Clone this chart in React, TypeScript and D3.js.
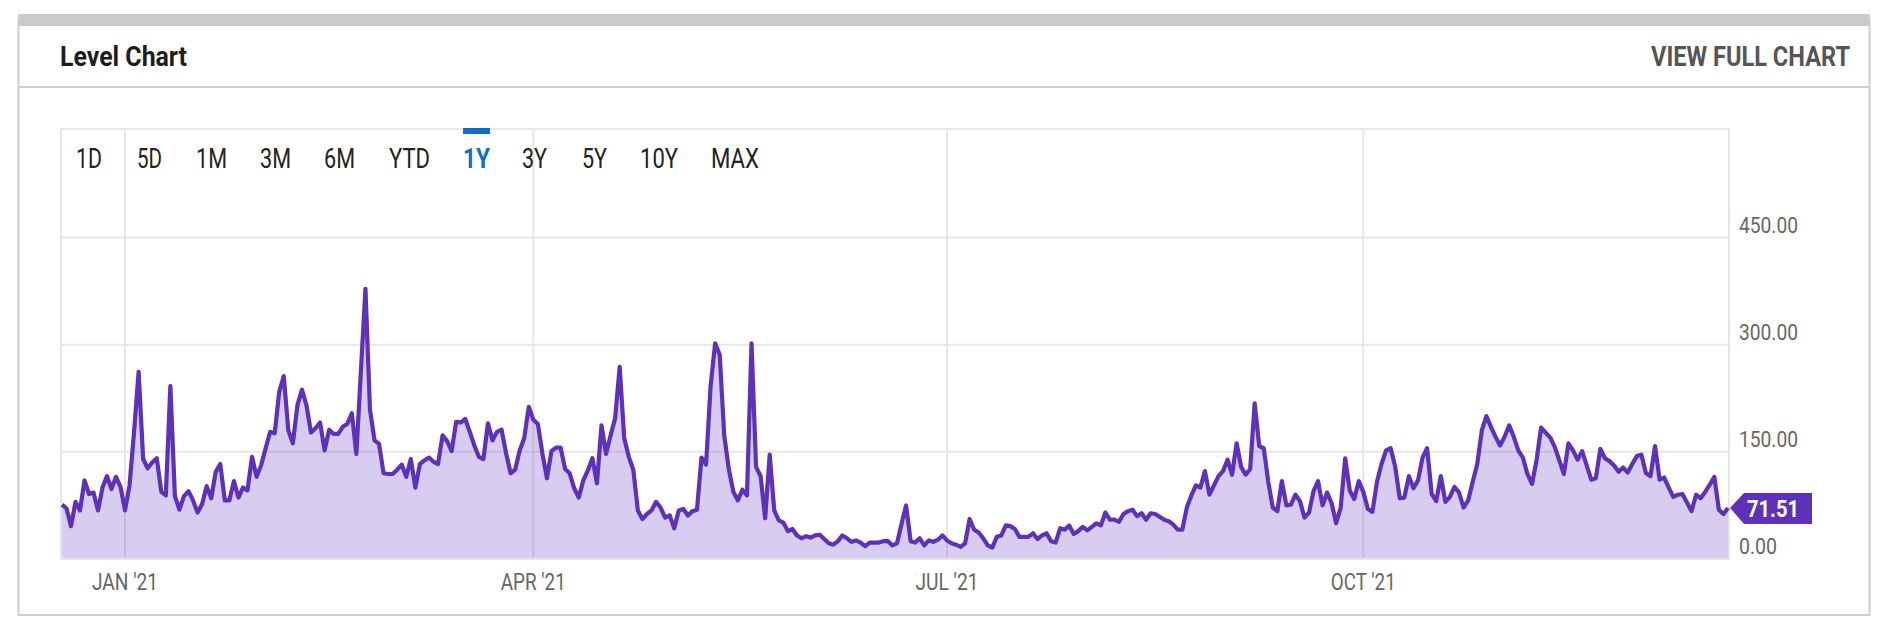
import React from 'react';
import * as d3 from 'd3';

const title = 'Level Chart';
const linkText = 'VIEW FULL CHART';
const rangeTabs = ['1D', '5D', '1M', '3M', '6M', 'YTD', '1Y', '3Y', '5Y', '10Y', 'MAX'];
const activeTab = '1Y';
const yTicks = [0, 150, 300, 450];
const xTicks = [new Date(Date.UTC(2021, 0, 1)), new Date(Date.UTC(2021, 3, 1)), new Date(Date.UTC(2021, 6, 1)), new Date(Date.UTC(2021, 9, 1))];
const firstDay = new Date(Date.UTC(2020, 11, 18));
const lastValue = 71.51;

// one value per day
const levels = [
  76, 71, 46, 80, 68, 110, 91, 93, 68, 100, 116, 98, 115, 101, 68, 103, 178, 262, 140, 127, 135, 141, 94, 89, 242, 88,
  69, 88, 95, 82, 65, 77, 102, 85, 122, 133, 82, 82, 109, 86, 100, 96, 143, 115, 131, 155, 178, 176, 234, 256, 180, 162, 215,
  237, 215, 177, 183, 191, 152, 181, 175, 175, 185, 189, 204, 147, 263, 378, 209, 166, 161, 120, 119, 119, 125, 132, 115, 140, 100,
  133, 138, 142, 136, 133, 173, 165, 151, 192, 191, 196, 178, 159, 143, 140, 190, 166, 178, 181, 148, 120, 125, 152, 169, 213, 195,
  189, 148, 113, 151, 156, 156, 126, 120, 99, 86, 110, 124, 141, 106, 187, 147, 173, 197, 269, 169, 143, 125, 68, 56, 63, 68,
  80, 72, 58, 61, 43, 68, 70, 61, 67, 69, 142, 132, 242, 302, 286, 173, 126, 94, 82, 97, 89, 302, 129, 116, 57, 146,
  68, 54, 51, 39, 42, 33, 29, 32, 30, 33, 34, 28, 22, 20, 25, 33, 29, 24, 26, 23, 18, 23, 23, 23, 25, 25,
  19, 22, 49, 75, 25, 23, 29, 19, 26, 24, 27, 33, 26, 22, 20, 17, 22, 56, 41, 37, 29, 19, 16, 31, 33, 47, 46,
  42, 31, 31, 31, 36, 28, 33, 36, 25, 23, 43, 41, 47, 35, 39, 45, 40, 45, 50, 47, 65, 55, 55, 52, 63, 67, 69,
  60, 64, 55, 64, 63, 59, 55, 53, 48, 41, 41, 72, 89, 103, 100, 123, 90, 103, 116, 123, 139, 118, 162, 129, 118,
  126, 218, 158, 155, 108, 72, 67, 109, 75, 76, 90, 81, 58, 65, 95, 109, 75, 93, 78, 50, 72, 141, 96, 84, 109, 94,
  70, 66, 108, 133, 152, 155, 129, 85, 86, 116, 99, 110, 142, 155, 91, 81, 116, 80, 87, 101, 93, 72, 82, 108, 133, 180, 200,
  185, 171, 159, 171, 187, 171, 152, 142, 119, 105, 138, 184, 177, 170, 157, 138, 119, 162, 152, 139, 151, 131, 111, 113, 154, 141,
  137, 131, 122, 128, 121, 133, 144, 146, 120, 116, 158, 111, 114, 100, 87, 90, 91, 79, 67, 90, 85, 94, 104, 115, 69, 63, lastValue,
];

const series = levels.map((value, i) => ({ date: d3.utcDay.offset(firstDay, i), value }));

const width = 1892;
const height = 634;
const plot = { left: 61, right: 1729, top: 128, bottom: 559 };

// the source axis is not quite even between quarters, so the scale is piecewise
const x = d3
  .scaleUtc()
  .domain([firstDay, ...xTicks, series[series.length - 1].date])
  .range([62, 125, 533.3, 947, 1363.3, 1728]);
const y = d3.scaleLinear().domain([0, 450]).range([plot.bottom, 237.5]);

const line = d3.line<{ date: Date; value: number }>().x(d => x(d.date)).y(d => y(d.value));
const area = d3.area<{ date: Date; value: number }>().x(d => x(d.date)).y0(plot.bottom).y1(d => y(d.value));

const monthLabel = (d: Date) => d3.utcFormat("%b '%y")(d).toUpperCase();
const yLabel = d3.format('.2f');

// measured text boxes, the source font is narrower than Roboto
const tabBoxes = [[76, 26], [137, 25], [196, 31], [260, 31], [324, 31], [389, 41], [463, 27], [522, 25], [582, 25], [640, 38], [711, 48]];
const xLabelWidths = [66, 65, 63, 65];

const App: React.FC = () => {
  const font = 'Roboto, sans-serif';
  const lineY = y(lastValue);
  return (
    <svg width={width} height={height} style={{ position: 'absolute', left: 0, top: 0, background: '#fff' }} fontFamily={font}>
      {/* card */}
      <rect x={18.5} y={20} width={1851} height={595} fill="#fff" stroke="#cdcdcd" strokeWidth={2} />
      <rect x={18} y={14} width={1852} height={12} fill="#cbcbcb" />
      <line x1={18} x2={1870} y1={87} y2={87} stroke="#cdcdcd" strokeWidth={2} />
      <text x={60} y={66} fontSize={27} fontWeight={700} fill="#1c1c1c" textLength={127} lengthAdjust="spacingAndGlyphs">{title}</text>
      <text x={1651} y={66} fontSize={27} fontWeight={700} fill="#555" textLength={199} lengthAdjust="spacingAndGlyphs">{linkText}</text>

      {/* grid */}
      <rect x={plot.left} y={plot.top + 1} width={plot.right - plot.left} height={plot.bottom - plot.top - 1} fill="none" stroke="#e6e6e6" strokeWidth={2} />
      {yTicks.map(t => (
        <line key={t} x1={plot.left} x2={plot.right} y1={y(t)} y2={y(t)} stroke="#e6e6e6" strokeWidth={2} />
      ))}
      {xTicks.map(t => (
        <line key={t.getTime()} x1={x(t)} x2={x(t)} y1={plot.top} y2={plot.bottom} stroke="#e6e6e6" strokeWidth={2} />
      ))}

      {/* series */}
      <path d={area(series) ?? ''} fill="#6a3cc9" fillOpacity={0.26} />
      <line x1={plot.left - 1} x2={plot.right} y1={plot.bottom} y2={plot.bottom} stroke="#e6e6e6" strokeWidth={2} />
      <path d={line(series) ?? ''} fill="none" stroke="#5e31bb" strokeWidth={4.2} strokeLinejoin="round" />

      {/* range selector */}
      <rect x={463} y={128} width={27} height={6} fill="#0f6fc6" />
      {rangeTabs.map((tab, i) => (
        <text
          key={tab}
          x={tabBoxes[i][0]}
          y={168}
          fontSize={27}
          fontWeight={tab === activeTab ? 700 : 400}
          fill={tab === activeTab ? '#0f6fc6' : '#222'}
          textLength={tabBoxes[i][1]}
          lengthAdjust="spacingAndGlyphs"
        >
          {tab}
        </text>
      ))}

      {/* axes */}
      {yTicks.map(t => (
        <text key={t} x={1739} y={y(t) - 5} fontSize={22} fill="#666" textLength={t === 0 ? 38 : 59} lengthAdjust="spacingAndGlyphs">
          {yLabel(t)}
        </text>
      ))}
      {xTicks.map((t, i) => (
        <text key={t.getTime()} x={x(t)} y={590} fontSize={23} fill="#666" textAnchor="middle" textLength={xLabelWidths[i]} lengthAdjust="spacingAndGlyphs">
          {monthLabel(t)}
        </text>
      ))}

      {/* last value tag */}
      <path
        d={d3.line()([[1730, lineY], [1744, lineY - 15], [1812, lineY - 15], [1812, lineY + 16], [1744, lineY + 16]]) + 'Z'}
        fill="#5e31bb"
      />
      <text x={1747} y={lineY + 9} fontSize={24} fontWeight={700} fill="#fff" textLength={52} lengthAdjust="spacingAndGlyphs">
        {lastValue}
      </text>
    </svg>
  );
};

export default App;
